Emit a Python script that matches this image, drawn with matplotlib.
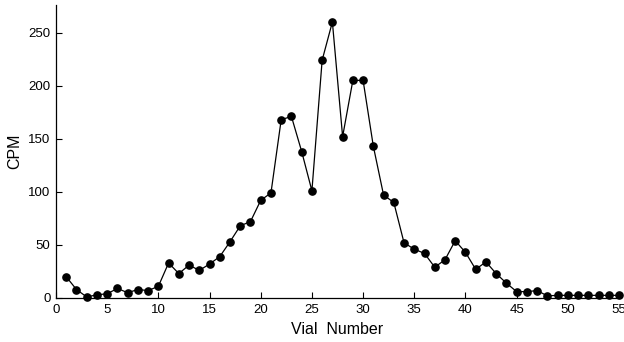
import numpy as np
import matplotlib
matplotlib.use("Agg")
import matplotlib.pyplot as plt

# vial number vs counts per minute
vial = np.arange(1, 56)
cpm = [20, 8, 1, 3, 4, 9, 5, 8, 7, 11,
       33, 23, 31, 26, 32, 39, 53, 68, 72, 92,
       99, 168, 171, 138, 101, 224, 260, 152, 205, 205,
       143, 97, 90, 52, 46, 42, 29, 36, 54, 43,
       27, 34, 23, 14, 6, 6, 7, 2, 2.5, 2.5,
       2.5, 2.5, 2.5, 2.5, 2.5]

xticks = [0, 5, 10, 15, 20, 25, 30, 35, 40, 45, 50, 55]
yticks = [0, 50, 100, 150, 200, 250]

plt.rcParams['font.family'] = ['Liberation Sans', 'DejaVu Sans']

fig = plt.figure(figsize=(6.24, 3.42), dpi=100)
ax = fig.add_axes([56 / 624, 1 - 298 / 342, (619 - 56) / 624, (298 - 5) / 342])

ax.plot(vial, cpm, color='black', lw=0.9, marker='o', markersize=5.2,
        markerfacecolor='black', markeredgecolor='black', clip_on=False)

ax.set_xlim(0, 55)
ax.set_ylim(0, 276)
ax.set_xticks(xticks)
ax.set_yticks(yticks)
ax.tick_params(direction='in', length=4, width=0.8, labelsize=9.5, pad=4)

for side in ['top', 'right']:
    ax.spines[side].set_visible(False)
for side in ['left', 'bottom']:
    ax.spines[side].set_linewidth(0.9)

ax.set_xlabel('Vial  Number', fontsize=11.5, labelpad=5)
ax.set_ylabel('CPM', fontsize=11.5, labelpad=4)

fig.savefig('out.png', dpi=100)
